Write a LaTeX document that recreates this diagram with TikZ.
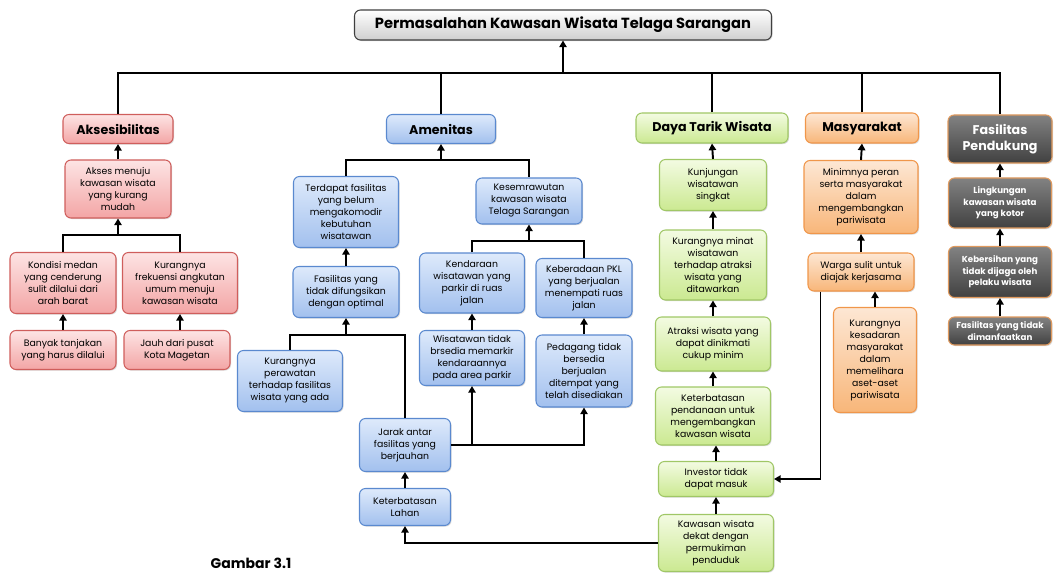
\documentclass[tikz,border=0pt]{standalone}
\usepackage{fontspec}
\setmainfont{Poppins}
\usetikzlibrary{arrows.meta,shadows}
\definecolor{rT}{HTML}{FDE4E4}\definecolor{rB}{HTML}{F3A5A5}\definecolor{rD}{HTML}{CF5E5C}
\definecolor{bT}{HTML}{DEEAFB}\definecolor{bB}{HTML}{A2C0EE}\definecolor{bD}{HTML}{5A89CF}
\definecolor{gT}{HTML}{F3FBE2}\definecolor{gB}{HTML}{CBE991}\definecolor{gD}{HTML}{A0C766}
\definecolor{oT}{HTML}{FDE7D4}\definecolor{oB}{HTML}{F8B679}\definecolor{oD}{HTML}{F0964A}
\definecolor{kT}{HTML}{828282}\definecolor{kB}{HTML}{414141}\definecolor{kD}{HTML}{E09A5E}
\definecolor{tB}{HTML}{CFCFCF}\definecolor{tD}{HTML}{3F3F3F}
\tikzset{
  sz/.style 2 args={minimum width=#1*0.75pt, minimum height=#2*0.75pt},
  base/.style={rounded corners=4.5pt, draw, line width=0.8pt, align=center, inner sep=1pt,
    font=\fontsize{7}{9}\selectfont,
    drop shadow={opacity=0.3, shadow xshift=0.8pt, shadow yshift=-0.8pt}},
  catf/.style={font=\fontsize{9.5}{11}\selectfont\bfseries},
  rbox/.style={base, draw=rD, top color=rT, bottom color=rB},
  bbox/.style={base, draw=bD, top color=bT, bottom color=bB},
  gbox/.style={base, draw=gD, top color=gT, bottom color=gB},
  obox/.style={base, draw=oD, top color=oT, bottom color=oB},
  kbox/.style={base, draw=kD, top color=kT, bottom color=kB, text=white, font=\fontsize{6.5}{8.5}\selectfont\bfseries},
  tbox/.style={base, draw=tD, top color=white, bottom color=tB, font=\fontsize{11}{13}\selectfont\bfseries},
  ln/.style={line width=1.45pt},
  arr/.style={ln, -{Triangle[length=5pt,width=5.5pt]}}
}
\begin{document}
\begin{tikzpicture}[x=0.75pt,y=-0.75pt]
\useasboundingbox (0,0) rectangle (1057,574);

% title and categories
\node[tbox, sz={417}{30}] (title) at (563,25) {Permasalahan Kawasan Wisata Telaga Sarangan};
\node[rbox, catf, sz={110}{29}] (aks) at (118,129) {Aksesibilitas};
\node[bbox, catf, sz={109}{29}] (amen) at (441,129) {Amenitas};
\node[gbox, catf, sz={152}{30}] (dtw) at (712,128) {Daya Tarik Wisata};
\node[obox, catf, sz={113}{30}] (mas) at (862,128) {Masyarakat};
\node[kbox, font=\fontsize{9.5}{12}\selectfont\bfseries, sz={104}{48}] (fp) at (1000,139) {Fasilitas\\Pendukung};

% Aksesibilitas
\node[rbox, sz={106}{58}] (a1) at (118,189) {Akses menuju\\kawasan wisata\\yang kurang\\mudah};
\node[rbox, sz={106}{61}] (a2) at (63,283) {Kondisi medan\\yang cenderung\\sulit dilalui dari\\arah barat};
\node[rbox, sz={115}{61}] (a3) at (180,283) {Kurangnya\\frekuensi angkutan\\umum menuju\\kawasan wisata};
\node[rbox, sz={106}{39}] (a4) at (63,350) {Banyak tanjakan\\yang harus dilalui};
\node[rbox, sz={106}{39}] (a5) at (177,350) {Jauh dari pusat\\Kota Magetan};

% Amenitas
\node[bbox, sz={105}{71}] (m1) at (346,212) {Terdapat fasilitas\\yang belum\\mengakomodir\\kebutuhan\\wisatawan};
\node[bbox, sz={106}{51}] (m2) at (346,292) {Fasilitas yang\\tidak difungsikan\\dengan optimal};
\node[bbox, sz={105}{61}] (m3) at (290,381) {Kurangnya\\perawatan\\terhadap fasilitas\\wisata yang ada};
\node[bbox, sz={91}{53}] (m4) at (405,445) {Jarak antar\\fasilitas yang\\berjauhan};
\node[bbox, sz={91}{37}] (m5) at (405,507) {Keterbatasan\\Lahan};
\node[bbox, sz={106}{46}] (m6) at (529,201) {Kesemrawutan\\kawasan wisata\\Telaga Sarangan};
\node[bbox, sz={105}{60}] (m7) at (472,283) {Kendaraan\\wisatawan yang\\parkir di ruas\\jalan};
\node[bbox, sz={96}{59}] (m8) at (584,288) {Keberadaan PKL\\yang berjualan\\menempati ruas\\jalan};
\node[bbox, sz={105}{55}] (m9) at (472,358) {Wisatawan tidak\\brsedia memarkir\\kendaraannya\\pada area parkir};
\node[bbox, sz={96}{72}] (m10) at (584,371) {Pedagang tidak\\bersedia\\berjualan\\ditempat yang\\telah disediakan};

% Daya Tarik Wisata
\node[gbox, sz={107}{51}] (d1) at (713,185) {Kunjungan\\wisatawan\\singkat};
\node[gbox, sz={107}{70}] (d2) at (713,265) {Kurangnya minat\\wisatawan\\terhadap atraksi\\wisata yang\\ditawarkan};
\node[gbox, sz={115}{54}] (d3) at (713,344) {Atraksi wisata yang\\dapat dinikmati\\cukup minim};
\node[gbox, sz={115}{58}] (d4) at (713,416) {Keterbatasan\\pendanaan untuk\\mengembangkan\\kawasan wisata};
\node[gbox, sz={115}{35}] (d5) at (716,479) {Investor tidak\\dapat masuk};
\node[gbox, sz={115}{57}] (d6) at (716,543) {Kawasan wisata\\dekat dengan\\permukiman\\penduduk};

% Masyarakat
\node[obox, sz={114}{73}] (s1) at (861,197) {Minimnya peran\\serta masyarakat\\dalam\\mengembangkan\\pariwisata};
\node[obox, sz={106}{38}] (s2) at (861,272) {Warga sulit untuk\\diajak kerjasama};
\node[obox, sz={83}{105}] (s3) at (875,360) {Kurangnya\\kesadaran\\masyarakat\\dalam\\memelihara\\aset-aset\\pariwisata};

% Fasilitas Pendukung
\node[kbox, sz={103}{50}] (f1) at (1000,203) {Lingkungan\\kawasan wisata\\yang kotor};
\node[kbox, sz={103}{51}] (f2) at (1000,272) {Kebersihan yang\\tidak dijaga oleh\\pelaku wisata};
\node[kbox, sz={103}{28}] (f3) at (1000,331) {Fasilitas yang tidak\\dimanfaatkan};

\node[font=\fontsize{10.5}{12}\selectfont\bfseries] (cap) at (251,563) {Gambar 3.1};

% bar coordinates
\coordinate (bT) at (563,73);
\coordinate (bA) at (118,235);
\coordinate (bM) at (441,160);
\coordinate (bF) at (346,335);
\coordinate (bK) at (529,241);

% top level
\draw[ln] (aks.north) |- (bT) -| (fp.north);
\draw[ln] (amen.north) -- (amen.north |- bT);
\draw[ln] (dtw.north) -- (dtw.north |- bT);
\draw[ln] (mas.north) -- (mas.north |- bT);
\draw[arr] (bT) -- (title.south);

% Aksesibilitas
\draw[arr] (a1.north) -- (aks.south);
\draw[ln] (a2.north) |- (bA) -| (a3.north);
\draw[arr] (bA) -- (a1.south);
\draw[arr] (a4.north) -- (a2.south);
\draw[arr] (a3.south |- a5.north) -- (a3.south);

% Amenitas
\draw[ln] (m1.north) |- (bM) -| (m6.north);
\draw[arr] (bM) -- (amen.south);
\draw[arr] (m2.north) -- (m1.south);
\draw[ln] (m3.north) |- (bF) -| (m4.north);
\draw[arr] (bF) -- (m2.south);
\draw[arr] (m5.north) -- (m4.south);
\draw[ln] (m7.north) |- (bK) -| (m8.north);
\draw[arr] (bK) -- (m6.south);
\draw[arr] (m9.north) -- (m7.south);
\draw[arr] (m10.north) -- (m8.south);
\draw[arr] (m4.east) -| (m9.south);
\draw[arr] (m4.east) -| (m10.south);
\draw[arr] (d6.west) -| (m5.south);

% Daya Tarik Wisata
\draw[arr] (d1.north) -- (dtw.south);
\draw[arr] (d2.north) -- (d1.south);
\draw[arr] (d3.north) -- (d2.south);
\draw[arr] (d4.north) -- (d3.south);
\draw[arr] (d5.north) -- (d5.north |- d4.south);
\draw[arr] (d6.north) -- (d5.south);

% Masyarakat
\draw[arr] (s1.north) -- (mas.south);
\draw[arr] (s2.north) -- (s1.south);
\draw[arr] (s3.north) -- (s3.north |- s2.south);
\draw[arr] ([xshift=13*0.75pt]s2.south west) |- (d5.east);

% Fasilitas Pendukung
\draw[arr] (f1.north) -- (fp.south);
\draw[arr] (f2.north) -- (f1.south);
\draw[arr] (f3.north) -- (f2.south);
\end{tikzpicture}
\end{document}
